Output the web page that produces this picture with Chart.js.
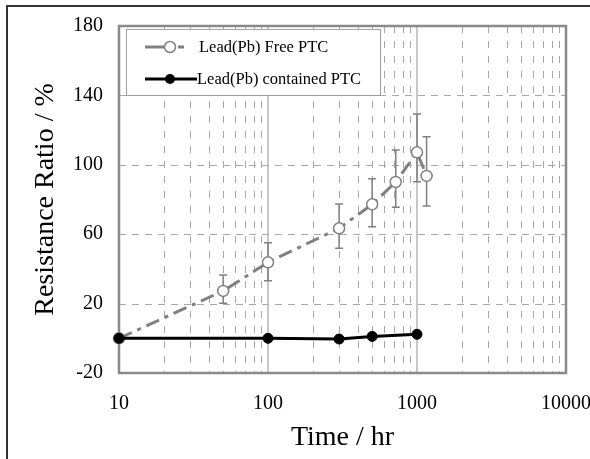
<!DOCTYPE html>
<html>
<head>
<meta charset="utf-8">
<script src="https://cdn.jsdelivr.net/npm/chart.js@4.4.1/dist/chart.umd.min.js"></script>
<style>
  body { margin: 0; background: #fff; }
  #wrap { position: relative; width: 590px; height: 459px; overflow: hidden; }
  #frame { position: absolute; left: 6px; top: 5px; width: 620px; height: 500px; border: 2px solid #333; }
  #chart { position: absolute; left: 0; top: 0; }
</style>
</head>
<body>
<div id="wrap">
  <div id="frame"></div>
  <canvas id="chart" width="590" height="459"></canvas>
</div>
<script>
const freeTime = [10, 50, 100, 300, 500, 720, 1000, 1160];
const freeRatio = [0, 27.3, 43.8, 63.4, 77.2, 90.1, 107.2, 93.6];
const freeErrUp = [null, 9.2, 11.3, 14.0, 14.8, 18.4, 22.1, 22.6];
const freeErrDown = [null, 7.1, 10.6, 11.5, 12.9, 14.6, 16.9, 17.3];

const pbTime = [10, 100, 300, 500, 1000];
const pbRatio = [0, 0, -0.4, 1.1, 2.3];

const xTicks = [10, 100, 1000, 10000];
const yTicks = [-20, 20, 60, 100, 140, 180];

const seriesNames = ["Lead(Pb) Free PTC", "Lead(Pb) contained PTC"];

const serif = "'Liberation Serif', 'Times New Roman', serif";
const grey = "#808080";

// grid, frame and error bars go under the points
const backPlugin = {
  id: "back",
  beforeDatasetsDraw(c) {
    const ctx = c.ctx;
    const a = c.chartArea;
    const xs = c.scales.x;
    const ys = c.scales.y;
    ctx.save();

    // horizontal dashed grid
    ctx.strokeStyle = "#a8a8a8";
    ctx.lineWidth = 1;
    ctx.setLineDash([7, 6]);
    yTicks.slice(1, -1).forEach((v) => {
      const y = Math.round(ys.getPixelForValue(v)) + 0.5;
      ctx.beginPath();
      ctx.moveTo(a.left, y);
      ctx.lineTo(a.right, y);
      ctx.stroke();
    });

    // minor vertical lines
    ctx.setLineDash([7, 8]);
    xTicks.slice(0, -1).forEach((d) => {
      for (let m = 2; m <= 9; m++) {
        const x = Math.round(xs.getPixelForValue(d * m)) + 0.5;
        ctx.beginPath();
        ctx.moveTo(x, a.top);
        ctx.lineTo(x, a.bottom);
        ctx.stroke();
      }
    });

    // major vertical lines
    ctx.setLineDash([]);
    ctx.strokeStyle = "#b4b4b4";
    ctx.lineWidth = 1.5;
    xTicks.slice(1, -1).forEach((d) => {
      const x = xs.getPixelForValue(d);
      ctx.beginPath();
      ctx.moveTo(x, a.top);
      ctx.lineTo(x, a.bottom);
      ctx.stroke();
    });

    // plot border
    ctx.strokeStyle = "#8a8a8a";
    ctx.lineWidth = 2.5;
    ctx.strokeRect(a.left, a.top, a.right - a.left, a.bottom - a.top);

    // error bars
    ctx.strokeStyle = grey;
    ctx.lineWidth = 1.5;
    freeTime.forEach((t, i) => {
      if (freeErrUp[i] == null) return;
      const x = xs.getPixelForValue(t);
      const yTop = ys.getPixelForValue(freeRatio[i] + freeErrUp[i]);
      const yBot = ys.getPixelForValue(freeRatio[i] - freeErrDown[i]);
      ctx.beginPath();
      ctx.moveTo(x, yTop);
      ctx.lineTo(x, yBot);
      ctx.moveTo(x - 4, yTop);
      ctx.lineTo(x + 4, yTop);
      ctx.moveTo(x - 4, yBot);
      ctx.lineTo(x + 4, yBot);
      ctx.stroke();
    });

    ctx.restore();
  },
};

const legendPlugin = {
  id: "boxLegend",
  afterDatasetsDraw(c) {
    const ctx = c.ctx;
    const a = c.chartArea;
    const left = a.left + 7;
    const top = a.top + 3;
    ctx.save();
    ctx.fillStyle = "#fff";
    ctx.fillRect(left, top, 254, 66);
    ctx.strokeStyle = "#a0a0a0";
    ctx.lineWidth = 1;
    ctx.strokeRect(left + 0.5, top + 0.5, 254, 66);

    const y1 = top + 18;
    const y2 = top + 50;
    const lx = left + 19;

    // free PTC sample
    ctx.strokeStyle = grey;
    ctx.lineWidth = 3;
    ctx.beginPath();
    ctx.moveTo(lx, y1);
    ctx.lineTo(lx + 19, y1);
    ctx.moveTo(lx + 33, y1);
    ctx.lineTo(lx + 39, y1);
    ctx.stroke();
    ctx.lineWidth = 1.5;
    ctx.fillStyle = "#fff";
    ctx.beginPath();
    ctx.arc(lx + 25, y1, 5.5, 0, Math.PI * 2);
    ctx.fill();
    ctx.stroke();

    // contained PTC sample
    ctx.strokeStyle = "#000";
    ctx.lineWidth = 3;
    ctx.beginPath();
    ctx.moveTo(lx, y2);
    ctx.lineTo(lx + 52, y2);
    ctx.stroke();
    ctx.fillStyle = "#000";
    ctx.beginPath();
    ctx.arc(lx + 25, y2, 5, 0, Math.PI * 2);
    ctx.fill();

    ctx.font = "16.5px " + serif;
    ctx.fillStyle = "#000";
    ctx.textBaseline = "middle";
    ctx.fillText(seriesNames[0], lx + 54, y1 + 1);
    ctx.fillText(seriesNames[1], lx + 52, y2 + 1);
    ctx.restore();
  },
};

new Chart(document.getElementById("chart"), {
  type: "line",
  data: {
    datasets: [
      {
        label: seriesNames[1],
        data: pbTime.map((t, i) => ({ x: t, y: pbRatio[i] })),
        borderColor: "#000",
        borderWidth: 3,
        pointRadius: 5,
        pointBackgroundColor: "#000",
        pointBorderColor: "#000",
        pointBorderWidth: 1,
        clip: false,
        order: 0,
      },
      {
        label: seriesNames[0],
        data: freeTime.map((t, i) => ({ x: t, y: freeRatio[i] })),
        borderColor: grey,
        borderWidth: 3,
        borderDash: [14, 6, 4, 6],
        pointRadius: 5.5,
        pointBackgroundColor: "#fff",
        pointBorderColor: grey,
        pointBorderWidth: 1.5,
        clip: false,
        order: 1,
      },
    ],
  },
  options: {
    responsive: false,
    animation: false,
    events: [],
    layout: { padding: { top: 26, right: 24, left: 0, bottom: 0 } },
    plugins: {
      legend: { display: false },
      tooltip: { enabled: false },
    },
    scales: {
      x: {
        type: "logarithmic",
        min: 10,
        max: 10000,
        afterBuildTicks: (s) => {
          s.ticks = xTicks.map((v) => ({ value: v }));
        },
        afterFit: (s) => {
          s.height = 86;
          s.paddingLeft = 0;
          s.paddingRight = 0;
        },
        grid: { display: false, drawTicks: false },
        border: { display: false },
        ticks: {
          autoSkip: false,
          maxRotation: 0,
          padding: 19,
          color: "#000",
          font: { family: serif, size: 20 },
          callback: (v) => String(v),
        },
        title: {
          display: true,
          text: "Time / hr",
          color: "#000",
          font: { family: serif, size: 28, lineHeight: 1.2 },
          padding: { top: 0, bottom: 5 },
        },
      },
      y: {
        min: -20,
        max: 180,
        afterBuildTicks: (s) => {
          s.ticks = yTicks.map((v) => ({ value: v }));
        },
        afterFit: (s) => {
          s.width = 119;
          s.paddingTop = 0;
          s.paddingBottom = 0;
        },
        grid: { display: false, drawTicks: false },
        border: { display: false },
        ticks: {
          padding: 16,
          color: "#000",
          font: { family: serif, size: 20 },
        },
        title: {
          display: true,
          text: "Resistance Ratio / %",
          color: "#000",
          font: { family: serif, size: 28, lineHeight: 1.2 },
          padding: { top: 29, bottom: 0 },
        },
      },
    },
  },
  plugins: [backPlugin, legendPlugin],
});
</script>
</body>
</html>
